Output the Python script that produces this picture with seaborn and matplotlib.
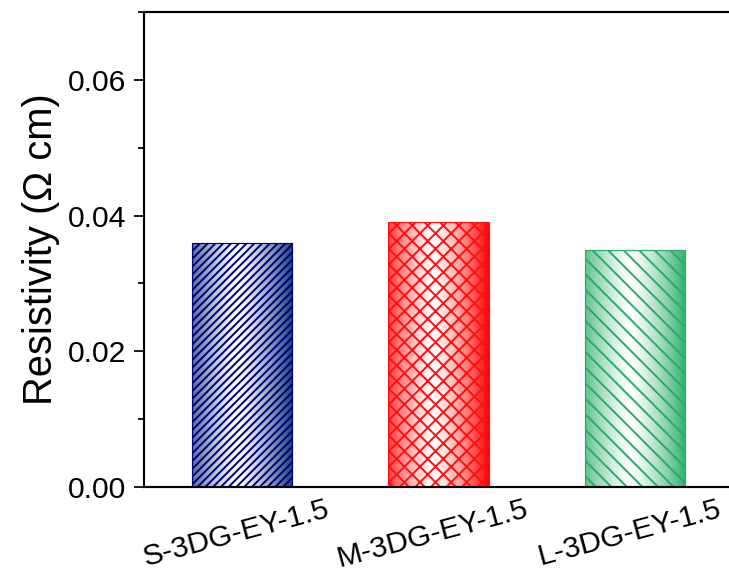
import numpy as np
import pandas as pd
import matplotlib
matplotlib.use("Agg")
import matplotlib.pyplot as plt
import matplotlib.transforms as mtransforms
import seaborn as sns
from matplotlib.colors import to_rgb
from matplotlib.ticker import MultipleLocator, FormatStrFormatter

# Sample names and measured resistivity (Ω cm)
categories = ["S-3DG-EY-1.5", "M-3DG-EY-1.5", "L-3DG-EY-1.5"]
resistivity = [0.036, 0.039, 0.035]

# Bar styling: cylinder-like shading colour, hatch colour and hatch pattern
shade_colors = ["#1d3f7e", "#ff0000", "#30b06e"]
hatch_colors = ["#00007a", "#ff1010", "#2ea86a"]
hatches = ["//////", "xxx", "\\\\\\"]

sns.set_style("ticks")
plt.rcParams["font.family"] = ["Liberation Sans", "DejaVu Sans"]
plt.rcParams["hatch.linewidth"] = 1.0
for key in ["text.color", "axes.labelcolor", "xtick.color", "ytick.color",
            "axes.edgecolor"]:
    plt.rcParams[key] = "black"

DPI = 140
W, H = 729, 580
fig = plt.figure(figsize=(W / DPI, H / DPI), dpi=DPI)
fig.patch.set_facecolor("white")
ax = fig.add_axes([143.75 / W, 1 - 487 / H, 589.5 / W, 475 / H])

df = pd.DataFrame({"sample": categories, "resistivity": resistivity})
sns.barplot(data=df, x="sample", y="resistivity", hue="sample",
            palette=shade_colors, width=0.51, saturation=1,
            legend=False, ax=ax)

# Horizontal shading: coloured at the sides, fading to white near the middle
def shading(color, n=256):
    c = np.array(to_rgb(color))
    u = np.linspace(0, 1, n)
    t = np.clip(np.abs(u - 0.45) / 0.55, 0, 1) ** 1.3
    row = (1 - t)[:, None] * np.ones(3) + t[:, None] * c
    return np.stack([row, row])

bars = sorted(ax.patches, key=lambda p: p.get_x())
for bar, sc, hc, hp in zip(bars, shade_colors, hatch_colors, hatches):
    x0, y0 = bar.get_x(), bar.get_y()
    w, h = bar.get_width(), bar.get_height()
    im = ax.imshow(shading(sc), extent=[x0, x0 + w, y0, y0 + h],
                   aspect="auto", origin="lower", interpolation="bilinear",
                   zorder=0.9)
    im.set_clip_path(bar)
    bar.set_facecolor("none")
    bar.set_edgecolor(hc)
    bar.set_hatch(hp)
    bar.set_linewidth(0.6)
    bar.set_zorder(1)

ax.set_xlim(-0.5, 2.5)
ax.set_ylim(0, 0.07)
ax.yaxis.set_major_locator(MultipleLocator(0.02))
ax.yaxis.set_minor_locator(MultipleLocator(0.01))
ax.yaxis.set_major_formatter(FormatStrFormatter("%.2f"))

for side in ["left", "right", "top", "bottom"]:
    ax.spines[side].set_visible(True)
    ax.spines[side].set_linewidth(1.1)
    ax.spines[side].set_color("black")

ax.tick_params(axis="y", which="major", direction="out", length=5.2,
               width=0.9, labelsize=15.5, pad=4, colors="black")
ax.tick_params(axis="y", which="minor", direction="out", length=3,
               width=0.9, colors="black")
ax.tick_params(axis="x", which="both", length=0, labelsize=15.5, pad=4,
               colors="black")

# Rotated category labels, nudged slightly left of the bar centres
shift = mtransforms.ScaledTranslation(-6 / DPI, 0, fig.dpi_scale_trans)
for lab in ax.get_xticklabels():
    lab.set_rotation(15)
    lab.set_ha("center")
    lab.set_transform(lab.get_transform() + shift)

ax.set_xlabel("")
ax.set_ylabel("Resistivity (Ω cm)", fontsize=20.5, labelpad=4,
              color="black")

fig.savefig("out.png", dpi=DPI, facecolor="white")
